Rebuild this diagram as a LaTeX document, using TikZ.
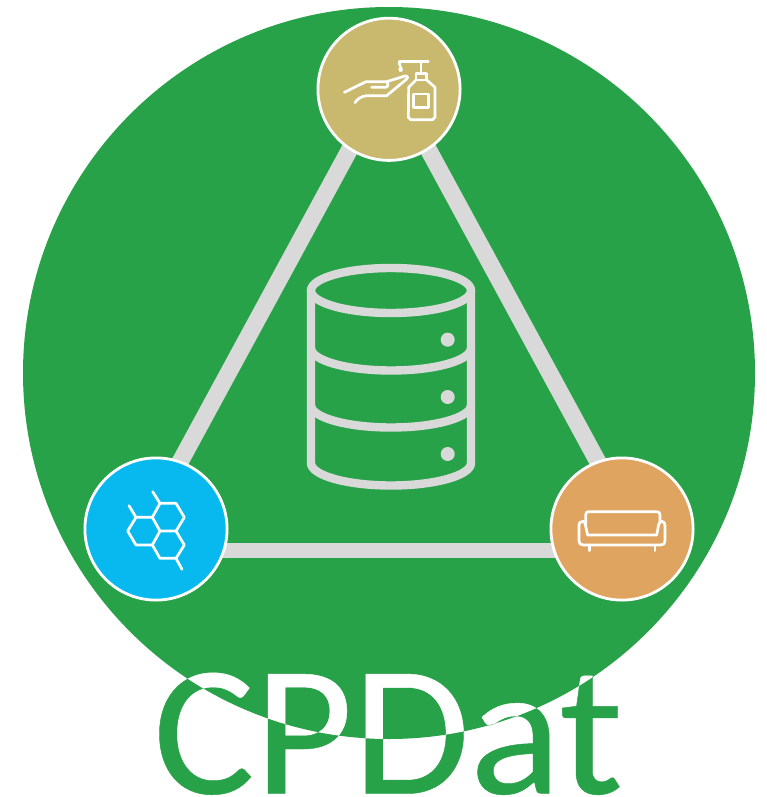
\documentclass[tikz,border=0pt]{standalone}
\usepackage{fontspec}
\setmainfont{Carlito}[FakeBold=0.25,FakeStretch=1.022]
\definecolor{cpgreen}{HTML}{28A249}
\definecolor{cpgray}{HTML}{D9D9D9}
\definecolor{cpgold}{HTML}{C8B96F}
\definecolor{cpblue}{HTML}{08B9F0}
\definecolor{cporange}{HTML}{DFA45F}
\tikzset{
  hub/.style={circle,draw=white,line width=2.8pt,minimum size=142.2pt,inner sep=0pt},
  edgeline/.style={draw=cpgray,line width=17pt},
  baseline/.style={draw=cpgray,line width=15pt},
  dbline/.style={draw=cpgray,line width=8.4pt},
  icon/.style={draw=white,line width=2.7pt,line cap=round,line join=round},
  logo/.style={inner sep=0pt,anchor=base,font=\fontsize{186}{186}\selectfont}
}
\begin{document}
\begin{tikzpicture}[x=1pt,y=-1pt]
\useasboundingbox (0,0) rectangle (767,797);
\fill[white] (0,0) rectangle (767,797);
\node[circle,fill=cpgreen,minimum size=732pt,inner sep=0pt] (disc) at (389,373) {};
\coordinate (ta) at (389,77);
\coordinate (tl) at (132,550.5);
\coordinate (tr) at (646,550.5);
\draw[edgeline] (tl) -- (ta) -- (tr);
\draw[baseline] (tl) -- (tr);
\node[hub,fill=cpgold] (care) at (389,89.3) {};
\node[hub,fill=cpblue] (chem) at (156,529) {};
\node[hub,fill=cporange] (sofa) at (622,529) {};
% database
\draw[dbline] (391,290.5) ellipse [x radius=80,y radius=22.5];
\draw[dbline] (311,290.5) -- (311,463) arc[start angle=180,end angle=0,x radius=80,y radius=22.5] -- (471,290.5);
\draw[dbline] (311,348) arc[start angle=180,end angle=0,x radius=80,y radius=22.5];
\draw[dbline] (311,405) arc[start angle=180,end angle=0,x radius=80,y radius=22.5];
\fill[cpgray] (447.7,339.7) circle (7) (447.7,397) circle (7) (447.7,454) circle (7);
% bottle and hand (coordinates in 1/3 px from crop corner)
\begin{scope}[icon,shift={(310,10)},x=0.33333pt,y=-0.33333pt]
\draw (268,155) -- (355,155) (268,155) -- (268,165) (333,155) -- (333,190);
\draw[fill=white,line width=0.4pt] (272,165) .. controls (266,174) and (263,185) .. (272,185) .. controls (281,185) and (278,174) .. (272,165);
\draw (318,190) -- (350,190) -- (350,210) -- (318,210) -- cycle;
\draw (318,210) -- (296,232) -- (295,322) -- (302,329) -- (368,329) -- (375,322) -- (375,232) -- (350,210);
\draw (311,252) rectangle (355,292);
\draw (103,247) -- (168,215) -- (230,215) -- (285,198) .. controls (293,197) and (296,203) .. (288,209) -- (230,257) -- (170,257) .. controls (155,259) and (143,265) .. (135,278);
\draw (185,232) -- (225,232) .. controls (233,232) and (238,224) .. (230,215);
\end{scope}
% hexagons
\begin{scope}[icon,shift={(80,450)},x=0.33333pt,y=-0.33333pt]
\draw (240,160) -- (288,160) -- (313,202) -- (288,243) -- (240,243) -- (217,202) -- cycle;
\draw (288,243) -- (313,285) -- (288,325) -- (240,325) -- (217,285) -- (240,243);
\draw (217,202) -- (168,202) -- (143,243) -- (168,285) -- (217,285);
\draw (240,160) -- (218,125) (168,202) -- (147,167) (288,325) -- (306,358);
\end{scope}
% sofa
\begin{scope}[icon,shift={(540,450)},x=0.33333pt,y=-0.33333pt]
\draw (137,222) -- (137,195) .. controls (137,188) and (140,185) .. (146,185) -- (350,185) .. controls (357,185) and (360,188) .. (360,195) -- (360,220);
\draw (117,228) .. controls (117,218) and (122,213) .. (129,214) .. controls (133,215) and (135,218) .. (136,224) -- (143,255) -- (350,255) -- (356,224) .. controls (357,218) and (361,214) .. (366,214) .. controls (372,214) and (375,220) .. (375,228) -- (375,272) .. controls (375,281) and (371,285) .. (362,285) -- (130,285) .. controls (121,285) and (117,281) .. (117,272) -- cycle;
\draw (148,285) -- (148,302) (345,285) -- (345,302);
\end{scope}
% text
\node[logo,text=cpgreen] (wordmark) at (388,793.5) {CPDat};
\begin{scope}
\clip (389,373) circle (366);
\node[logo,text=white] (wordclip) at (388,793.5) {CPDat};
\end{scope}
\end{tikzpicture}
\end{document}
